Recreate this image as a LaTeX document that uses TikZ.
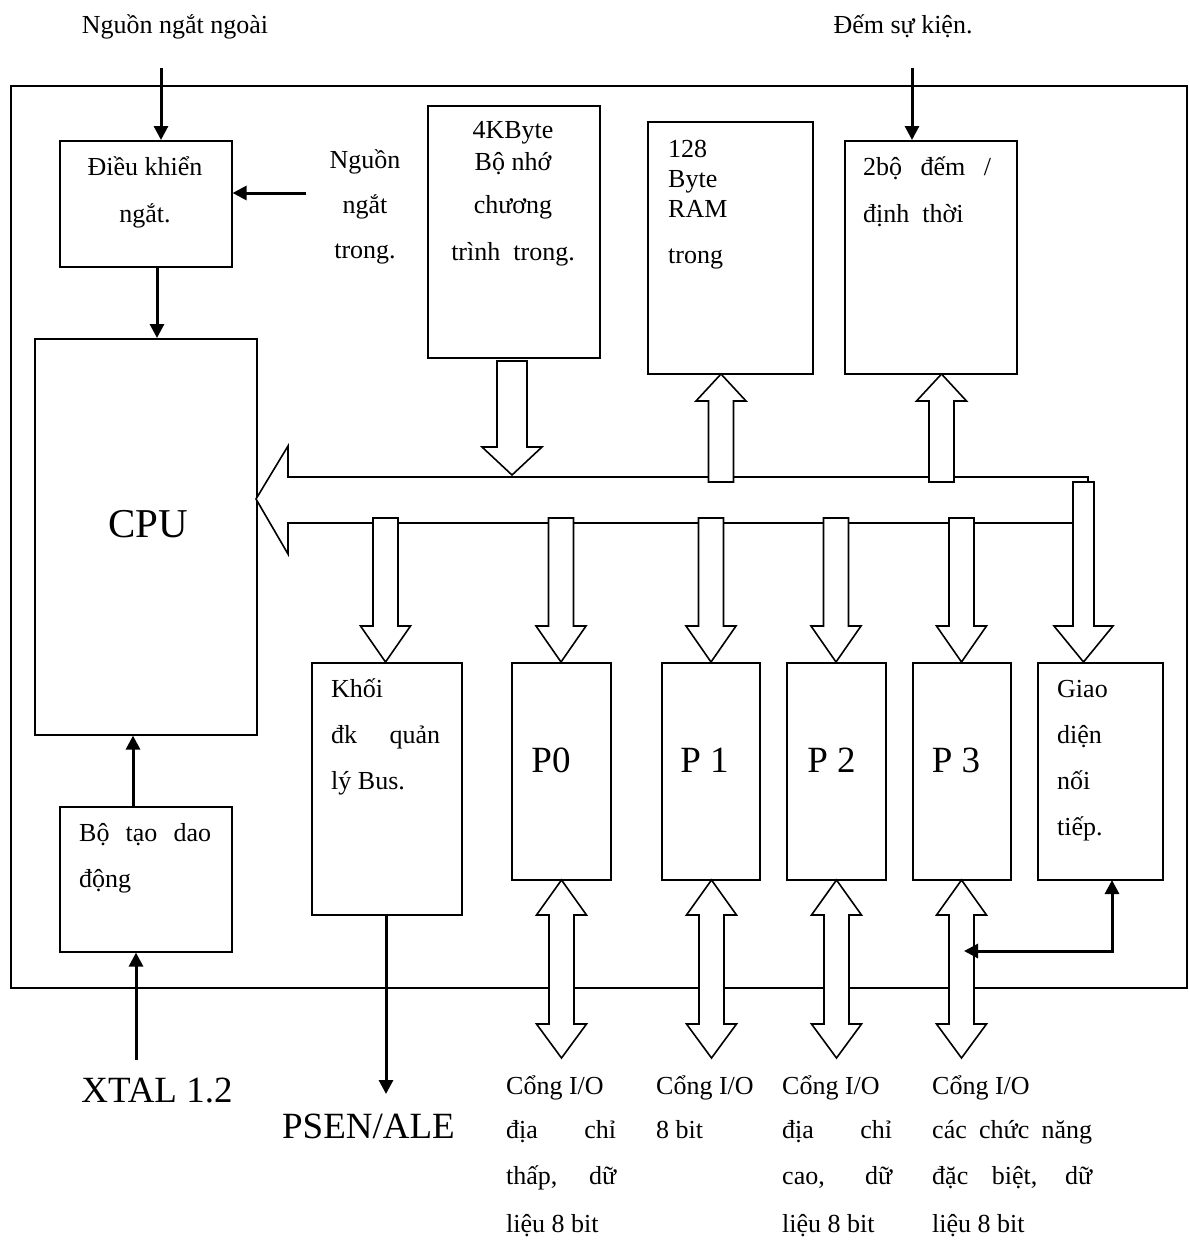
\documentclass[tikz,border=0pt]{standalone}
\usepackage{fontspec}
\setmainfont{Liberation Serif}
\usetikzlibrary{arrows.meta}

% hollow block arrow: centre x, tail y, head-base y, tip y, shaft half-width, head half-width
\newcommand\hollowarrow[6]{%
  \draw[bus] (#1-#5,#2) -- (#1+#5,#2) -- (#1+#5,#3) -- (#1+#6,#3) -- (#1,#4)
    -- (#1-#6,#3) -- (#1-#5,#3) -- cycle;}
% hollow double-headed vertical arrow: centre x, top tip, top base, bottom base, bottom tip, shaft hw, head hw
\newcommand\hollowboth[7]{%
  \draw[bus] (#1,#2) -- (#1+#7,#3) -- (#1+#6,#3) -- (#1+#6,#4) -- (#1+#7,#4) -- (#1,#5)
    -- (#1-#7,#4) -- (#1-#6,#4) -- (#1-#6,#3) -- (#1-#7,#3) -- cycle;}

\begin{document}
\begin{tikzpicture}[x=1pt,y=-1pt,
  blk/.style={draw, line width=1.6pt, fill=white, inner sep=0pt, anchor=north west},
  lbl/.style={inner sep=0pt, font=\fontsize{26}{30}\selectfont},
  biglbl/.style={inner sep=0pt, font=\fontsize{37}{44}\selectfont},
  sig/.style={line width=3pt, -{Triangle[length=14pt,width=14pt]}},
  sigtwo/.style={line width=3pt, {Triangle[length=14pt,width=14pt]}-{Triangle[length=14pt,width=14pt]}},
  bus/.style={draw, line width=1.6pt, fill=white, line join=miter}
]
\fill[white] (0,0) rectangle (1189,1240);

% chip outline
\node[blk, minimum width=1176pt, minimum height=902pt] (chip) at (10,85) {};

% functional blocks
\node[blk, minimum width=172pt, minimum height=126pt] (ic)  at (59,140) {};
\node[blk, minimum width=222pt, minimum height=396pt] (cpu) at (34,338) {};
\node[blk, minimum width=172pt, minimum height=145pt] (osc) at (59,806) {};
\node[blk, minimum width=172pt, minimum height=252pt] (rom) at (427,105) {};
\node[blk, minimum width=165pt, minimum height=252pt] (ram) at (647,121) {};
\node[blk, minimum width=172pt, minimum height=233pt] (tmr) at (844,140) {};
\node[blk, minimum width=150pt, minimum height=252pt] (bcu) at (311,662) {};
\node[blk, minimum width=99pt,  minimum height=217pt] (p0)  at (511,662) {};
\node[blk, minimum width=98pt,  minimum height=217pt] (p1)  at (661,662) {};
\node[blk, minimum width=99pt,  minimum height=217pt] (p2)  at (786,662) {};
\node[blk, minimum width=98pt,  minimum height=217pt] (p3)  at (912,662) {};
\node[blk, minimum width=125pt, minimum height=217pt] (gd)  at (1037,662) {};

% internal bus towards the CPU
\draw[bus] (256,499) -- (288,446) -- (288,477) -- (1088,477) -- (1088,523)
  -- (288,523) -- (288,554) -- cycle;

% block arrows to and from the bus
\hollowarrow{512}{361}{447}{475}{15}{30}
\hollowarrow{721}{482}{401}{374}{12.5}{25}
\hollowarrow{941.5}{482}{401}{374}{12.5}{25}
\hollowarrow{385.5}{518}{626}{662}{12.5}{25}
\hollowarrow{561}{518}{626}{662}{12.5}{25}
\hollowarrow{711}{518}{626}{662}{12.5}{25}
\hollowarrow{836}{518}{626}{662}{12.5}{25}
\hollowarrow{961.5}{518}{626}{662}{12.5}{25}
\hollowarrow{1083.5}{482}{626}{662}{10.5}{29.5}

% port pins
\hollowboth{561.5}{880}{915}{1024}{1058}{12.5}{25}
\hollowboth{711.5}{880}{915}{1024}{1058}{12.5}{25}
\hollowboth{836.5}{880}{915}{1024}{1058}{12.5}{25}
\hollowboth{961.5}{880}{915}{1024}{1058}{12.5}{25}

% signal lines
\coordinate (extsrc) at (161,68);
\coordinate (intsrc) at (306,193);
\coordinate (icx) at (157,0);
\coordinate (oscx) at (133,0);
\coordinate (xtal) at (136,1060);
\coordinate (psen) at (386,1094);
\coordinate (evt) at (912,68);
\coordinate (p3link) at (964,951);
\coordinate (gdport) at (1112,880);
\draw[sig] (extsrc) -- (extsrc |- ic.north);
\draw[sig] (intsrc) -- (intsrc -| ic.east);
\draw[sig] (ic.south -| icx) -- (cpu.north -| icx);
\draw[sig] (osc.north -| oscx) -- (cpu.south -| oscx);
\draw[sig] (xtal) -- (xtal |- osc.south);
\draw[sig] (bcu.south -| psen) -- (psen);
\draw[sig] (evt) -- (evt |- tmr.north);
\draw[sigtwo] (p3link) -| (gdport);

% labels
\node[lbl, anchor=base] (t-ext) at (175,33) {Nguồn ngắt ngoài};
\node[lbl, anchor=base] (t-evt) at (903,33) {Đếm sự kiện.};

\node[lbl, anchor=base] (t-ic1) at (145,175) {Điều khiển};
\node[lbl, anchor=base] (t-ic2) at (145,222) {ngắt.};

\node[lbl, anchor=base] (t-in1) at (365,168) {Nguồn};
\node[lbl, anchor=base] (t-in2) at (365,213) {ngắt};
\node[lbl, anchor=base] (t-in3) at (365,258) {trong.};

\node[lbl, anchor=base] (t-rom1) at (513,138) {4KByte};
\node[lbl, anchor=base] (t-rom2) at (513,170) {Bộ nhớ};
\node[lbl, anchor=base] (t-rom3) at (513,213) {chương};
\node[lbl, anchor=base] (t-rom4) at (513,260) {trình\ \ trong.};

\node[lbl, anchor=base west] (t-ram1) at (668,157) {128};
\node[lbl, anchor=base west] (t-ram2) at (668,187) {Byte};
\node[lbl, anchor=base west] (t-ram3) at (668,217) {RAM};
\node[lbl, anchor=base west] (t-ram4) at (668,263) {trong};

\node[lbl, anchor=base west] (t-tmr1) at (863,175) {\makebox[128pt][s]{2bộ đếm /}};
\node[lbl, anchor=base west] (t-tmr2) at (863,222) {định\ \ thời};

\node[inner sep=0pt, font=\fontsize{41}{48}\selectfont, anchor=base] (t-cpu) at (148,537) {CPU};

\node[lbl, anchor=base west] (t-osc1) at (79,841) {\makebox[132pt][s]{Bộ tạo dao}};
\node[lbl, anchor=base west] (t-osc2) at (79,887) {động};

\node[lbl, anchor=base west] (t-bcu1) at (331,697) {Khối};
\node[lbl, anchor=base west] (t-bcu2) at (331,743) {\makebox[109pt][s]{đk quản}};
\node[lbl, anchor=base west] (t-bcu3) at (331,789) {lý Bus.};

\node[biglbl, anchor=base] (t-p0) at (551,772) {P0};
\node[biglbl, anchor=base] (t-p1) at (704.5,772) {P 1};
\node[biglbl, anchor=base] (t-p2) at (831.5,772) {P 2};
\node[biglbl, anchor=base] (t-p3) at (956,772) {P 3};

\node[lbl, anchor=base west] (t-gd1) at (1057,697) {Giao};
\node[lbl, anchor=base west] (t-gd2) at (1057,743) {diện};
\node[lbl, anchor=base west] (t-gd3) at (1057,789) {nối};
\node[lbl, anchor=base west] (t-gd4) at (1057,835) {tiếp.};

\node[biglbl, anchor=base] (t-xtal) at (157,1102) {XTAL 1.2};
\node[biglbl, anchor=base] (t-psen) at (368.5,1138) {PSEN/ALE};

% port descriptions
\node[lbl, anchor=base west] (c0a) at (506,1094) {Cổng I/O};
\node[lbl, anchor=base west] (c0b) at (506,1138) {\makebox[110pt][s]{địa chỉ}};
\node[lbl, anchor=base west] (c0c) at (506,1184) {\makebox[110pt][s]{thấp, dữ}};
\node[lbl, anchor=base west] (c0d) at (506,1232) {liệu 8 bit};

\node[lbl, anchor=base west] (c1a) at (656,1094) {Cổng I/O};
\node[lbl, anchor=base west] (c1b) at (656,1138) {8 bit};

\node[lbl, anchor=base west] (c2a) at (782,1094) {Cổng I/O};
\node[lbl, anchor=base west] (c2b) at (782,1138) {\makebox[110pt][s]{địa chỉ}};
\node[lbl, anchor=base west] (c2c) at (782,1184) {\makebox[110pt][s]{cao, dữ}};
\node[lbl, anchor=base west] (c2d) at (782,1232) {liệu 8 bit};

\node[lbl, anchor=base west] (c3a) at (932,1094) {Cổng I/O};
\node[lbl, anchor=base west] (c3b) at (932,1138) {\makebox[160pt][s]{các chức năng}};
\node[lbl, anchor=base west] (c3c) at (932,1184) {\makebox[160pt][s]{đặc biệt, dữ}};
\node[lbl, anchor=base west] (c3d) at (932,1232) {liệu 8 bit};
\end{tikzpicture}
\end{document}
